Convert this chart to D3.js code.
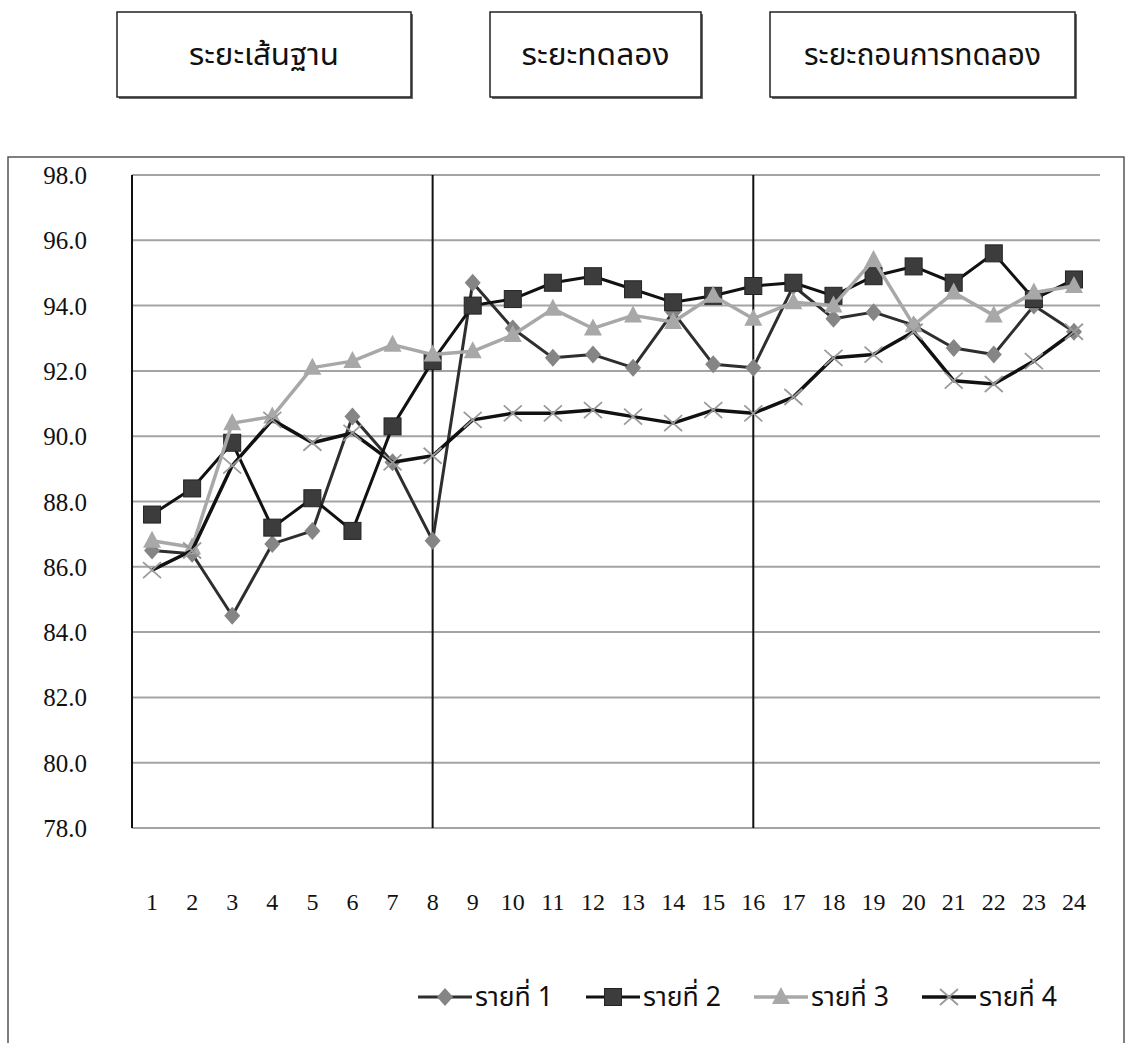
<!DOCTYPE html>
<html>
<head>
<meta charset="utf-8">
<script src="https://cdn.jsdelivr.net/npm/d3@7"></script>
<style>
  html, body { margin: 0; padding: 0; background: #ffffff; }
  svg { display: block; }
</style>
</head>
<body>
<script>
// Sessions 1-24, four participants
const sessions = d3.range(1, 25).map(String);
const seriesNames = ["รายที่ 1", "รายที่ 2", "รายที่ 3", "รายที่ 4"];
const phaseLabels = ["ระยะเส้นฐาน", "ระยะทดลอง", "ระยะถอนการทดลอง"];
const phaseBreaks = ["8", "16"];
const yTicks = [78, 80, 82, 84, 86, 88, 90, 92, 94, 96, 98];

const case1 = [86.5, 86.4, 84.5, 86.7, 87.1, 90.6, 89.2, 86.8, 94.7, 93.3, 92.4, 92.5,
               92.1, 93.8, 92.2, 92.1, 94.6, 93.6, 93.8, 93.4, 92.7, 92.5, 94.0, 93.2];
const case2 = [87.6, 88.4, 89.8, 87.2, 88.1, 87.1, 90.3, 92.3, 94.0, 94.2, 94.7, 94.9,
               94.5, 94.1, 94.3, 94.6, 94.7, 94.3, 94.9, 95.2, 94.7, 95.6, 94.2, 94.8];
const case3 = [86.8, 86.6, 90.4, 90.6, 92.1, 92.3, 92.8, 92.5, 92.6, 93.1, 93.9, 93.3,
               93.7, 93.5, 94.3, 93.6, 94.1, 94.0, 95.4, 93.4, 94.4, 93.7, 94.4, 94.6];
const case4 = [85.9, 86.5, 89.1, 90.5, 89.8, 90.1, 89.2, 89.4, 90.5, 90.7, 90.7, 90.8,
               90.6, 90.4, 90.8, 90.7, 91.2, 92.4, 92.5, 93.2, 91.7, 91.6, 92.3, 93.2];

const thaiFont = '"Noto Sans Thai", "Noto Serif Thai", Loma, Garuda, Norasi, "Noto Sans", sans-serif';
const numFont = '"Liberation Serif", "Times New Roman", serif';

const W = 1129, H = 1043;
const svg = d3.select("body").append("svg").attr("width", W).attr("height", H);

// outer chart frame
svg.append("rect").attr("x", 8).attr("y", 157).attr("width", 1116).attr("height", 920)
  .attr("fill", "#ffffff").attr("stroke", "#555").attr("stroke-width", 1.5);

// phase label boxes above the chart
const boxes = [
  { x: 117, w: 294, tw: 150 },
  { x: 490, w: 211, tw: 148 },
  { x: 770, w: 305, tw: 237 }
];
boxes.forEach((b, i) => {
  const g = svg.append("g");
  g.append("rect").attr("x", b.x + 2).attr("y", 14).attr("width", b.w).attr("height", 85)
    .attr("fill", "#6a6a6a");
  g.append("rect").attr("x", b.x).attr("y", 12).attr("width", b.w).attr("height", 85)
    .attr("fill", "#fff").attr("stroke", "#222").attr("stroke-width", 1.5);
  g.append("text")
    .style("font-family", thaiFont)
    .attr("x", b.x + b.w / 2).attr("y", 65)
    .attr("text-anchor", "middle")
    .attr("font-size", 31).attr("fill", "#111")
    .attr("textLength", b.tw).attr("lengthAdjust", "spacingAndGlyphs")
    .text(phaseLabels[i]);
});

// scales
const x = d3.scaleBand().domain(sessions).range([132, 1094]);
const cx = d => x(d) + x.bandwidth() / 2;
const y = d3.scaleLinear().domain([78, 98]).range([828, 175]);
const plotRight = 1100;

// horizontal gridlines
svg.append("g").selectAll("line").data(yTicks).join("line")
  .attr("x1", 132).attr("x2", plotRight)
  .attr("y1", d => y(d)).attr("y2", d => y(d))
  .attr("stroke", "#a3a3a8").attr("stroke-width", 2);

// y axis labels
const yAxis = svg.append("g").attr("transform", "translate(87,0)")
  .call(d3.axisLeft(y).tickValues(yTicks).tickFormat(d3.format(".1f")).tickSize(0).tickPadding(0));
yAxis.attr("font-family", null).attr("font-size", null);
yAxis.select(".domain").remove();
yAxis.selectAll("text")
  .style("font-family", numFont).style("font-size", "25px")
  .attr("fill", "#111").attr("dy", "0.34em");

// left axis line
svg.append("line").attr("x1", 132).attr("x2", 132).attr("y1", y(98)).attr("y2", y(78))
  .attr("stroke", "#111").attr("stroke-width", 2);

// phase divider lines
svg.append("g").selectAll("line").data(phaseBreaks).join("line")
  .attr("x1", d => cx(d)).attr("x2", d => cx(d))
  .attr("y1", y(98)).attr("y2", y(78))
  .attr("stroke", "#111").attr("stroke-width", 2);

// x axis labels
const xAxis = svg.append("g").attr("transform", "translate(0,893)")
  .call(d3.axisBottom(x).tickSize(0).tickPadding(0));
xAxis.attr("font-family", null).attr("font-size", null);
xAxis.select(".domain").remove();
xAxis.selectAll("text")
  .style("font-family", numFont).style("font-size", "24px")
  .attr("fill", "#111").attr("dy", "0.71em");

// marker and line styles per participant
const markers = [
  { type: "diamond", fill: "#858585", line: "#2e2e2e", lw: 3 },
  { type: "square",  fill: "#3c3c3c", line: "#111111", lw: 3 },
  { type: "triangle", fill: "#a8a8a8", line: "#a8a8a8", lw: 3.5 },
  { type: "cross",   fill: "#9a9a9a", line: "#111111", lw: 3.5 }
];

function drawMarker(g, type, px, py, st) {
  if (type === "diamond") {
    g.append("path").attr("d", `M${px},${py - 9}L${px + 8},${py}L${px},${py + 9}L${px - 8},${py}Z`)
      .attr("fill", st.fill);
  } else if (type === "square") {
    g.append("rect").attr("x", px - 8.5).attr("y", py - 8.5).attr("width", 17).attr("height", 17)
      .attr("fill", st.fill).attr("stroke", "#222").attr("stroke-width", 1);
  } else if (type === "triangle") {
    g.append("path").attr("d", `M${px},${py - 10}L${px + 9},${py + 7}L${px - 9},${py + 7}Z`)
      .attr("fill", st.fill);
  } else {
    g.append("path").attr("d", `M${px - 9},${py - 8}L${px + 9},${py + 8}M${px - 9},${py + 8}L${px + 9},${py - 8}`)
      .attr("stroke", st.fill).attr("stroke-width", 1.8).attr("fill", "none");
  }
}

const allSeries = [case1, case2, case3, case4];
const line = d3.line().x((d, i) => cx(sessions[i])).y(d => y(d));

allSeries.forEach((vals, s) => {
  const st = markers[s];
  const g = svg.append("g");
  g.append("path").datum(vals).attr("d", line)
    .attr("fill", "none").attr("stroke", st.line).attr("stroke-width", st.lw)
    .attr("stroke-linejoin", "round");
  vals.forEach((v, i) => drawMarker(g, st.type, cx(sessions[i]), y(v), st));
});

// legend
const legendX = [418, 586, 754, 922];
const legendY = 997;
seriesNames.forEach((name, s) => {
  const st = markers[s];
  const g = svg.append("g");
  const x0 = legendX[s];
  g.append("line").attr("x1", x0).attr("x2", x0 + 54).attr("y1", legendY).attr("y2", legendY)
    .attr("stroke", st.line).attr("stroke-width", st.lw);
  drawMarker(g, st.type, x0 + 27, legendY, st);
  g.append("text").style("font-family", thaiFont)
    .attr("x", x0 + 57).attr("y", legendY + 9)
    .attr("font-size", 27).attr("fill", "#111")
    .attr("textLength", 78).attr("lengthAdjust", "spacingAndGlyphs")
    .text(name);
});
</script>
</body>
</html>
